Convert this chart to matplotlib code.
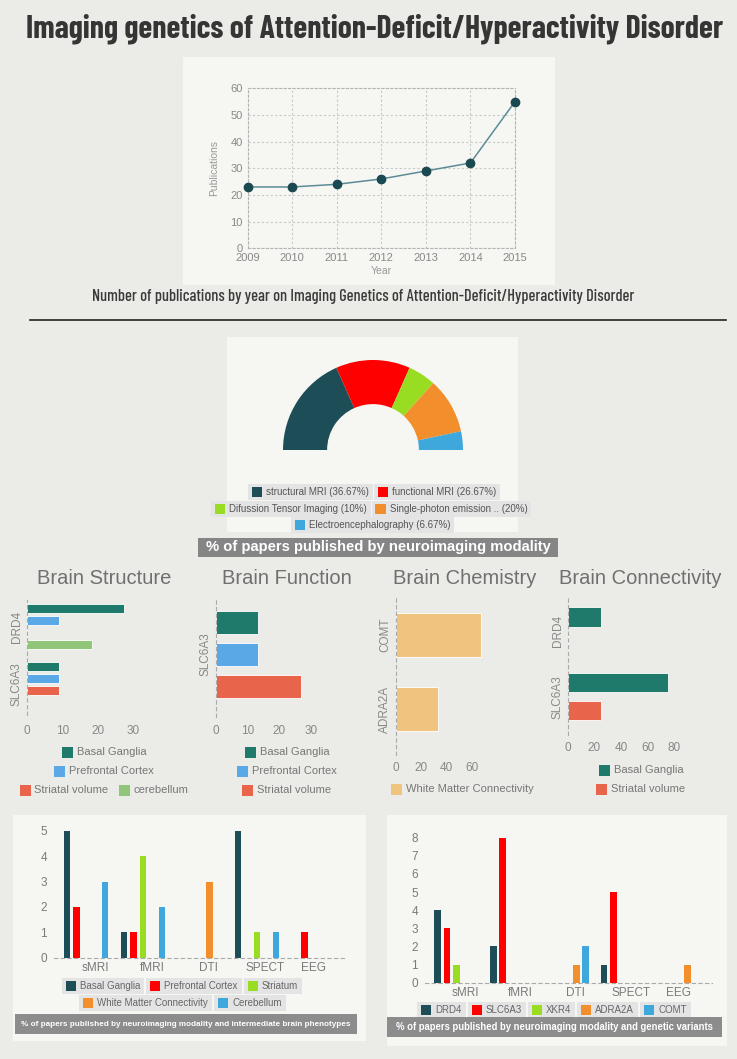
import matplotlib
matplotlib.use('Agg')
import matplotlib.pyplot as plt
from matplotlib.patches import Rectangle

W, H = 737, 1059

# publications per year
years = [2009, 2010, 2011, 2012, 2013, 2014, 2015]
publications = [23, 23, 24, 26, 29, 32, 55]

# neuroimaging modality share (%)
modalities = ['structural MRI', 'functional MRI', 'Difussion Tensor Imaging',
              'Single-photon emission ..', 'Electroencephalography']
modality_pct = [36.67, 26.67, 10, 20, 6.67]

# brain structure
struct_genes = ['DRD4', 'SLC6A3']
struct_series = ['Basal Ganglia', 'Prefrontal Cortex', 'Striatal volume', 'cerebellum']
struct_values = [[27.27, 9.09], [9.09, 9.09], [0, 9.09], [18.18, 0]]

# brain function
func_genes = ['SLC6A3']
func_series = ['Basal Ganglia', 'Prefrontal Cortex', 'Striatal volume']
func_values = [[13.33], [13.33], [26.67]]

# brain chemistry
chem_genes = ['COMT', 'ADRA2A']
chem_series = ['White Matter Connectivity']
chem_values = [[66.67, 33.33]]

# brain connectivity
conn_genes = ['DRD4', 'SLC6A3']
conn_series = ['Basal Ganglia', 'Striatal volume']
conn_values = [[25, 75], [0, 25]]

# modality x phenotype / modality x gene
modal_short = ['sMRI', 'fMRI', 'DTI', 'SPECT', 'EEG']
pheno_series = ['Basal Ganglia', 'Prefrontal Cortex', 'Striatum',
                'White Matter Connectivity', 'Cerebellum']
pheno_values = [[5, 1, 0, 5, 0], [2, 1, 0, 0, 1], [0, 4, 0, 1, 0],
                [0, 0, 3, 0, 0], [3, 2, 0, 1, 0]]
gene_series = ['DRD4', 'SLC6A3', 'XKR4', 'ADRA2A', 'COMT']
gene_values = [[4, 2, 0, 1, 0], [3, 8, 0, 5, 0], [1, 0, 0, 0, 0],
               [0, 0, 1, 0, 1], [0, 0, 2, 0, 0]]

five_colors = ['#1d4e57', '#ff0000', '#99dd22', '#f28f2c', '#3ea8dc']
small_colors = {'Basal Ganglia': '#1f7a6c', 'Prefrontal Cortex': '#5aa9e6',
                'Striatal volume': '#e8644b', 'cerebellum': '#8fc679',
                'White Matter Connectivity': '#f0c47e'}

FONT = ['Liberation Sans', 'DejaVu Sans']
COND = ['Barlow Condensed', 'Oswald', 'DejaVu Sans']
plt.rcParams['font.family'] = FONT

fig = plt.figure(figsize=(W / 100, H / 100), dpi=100, facecolor='#ebebe7')
renderer = fig.canvas.get_renderer()


def box(x0, y0, x1, y1):
    return [x0 / W, 1 - y1 / H, (x1 - x0) / W, (y1 - y0) / H]


def frect(x0, y0, x1, y1, color, z=-1):
    fig.patches.append(Rectangle((x0 / W, 1 - y1 / H), (x1 - x0) / W, (y1 - y0) / H,
                                 transform=fig.transFigure, facecolor=color,
                                 edgecolor='none', zorder=z))


def ftext(x, y, s, **kw):
    return fig.text(x / W, 1 - y / H, s, **kw)


def fit_text(cx, cy, s, width, **kw):
    t = ftext(cx, cy, s, ha='center', va='center', fontsize=10, **kw)
    bb = t.get_window_extent(renderer)
    t.set_fontsize(10 * width / bb.width)
    return t


def legend_row(labels, colors, cx, cy, size=8, sw=11, gap=4, sep=10,
               tcolor='#777777', boxed=False):
    widths = []
    for lab in labels:
        t = ftext(0, 0, lab, fontsize=size)
        widths.append(t.get_window_extent(renderer).width)
        t.remove()
    items = [sw + gap + w for w in widths]
    x = cx - (sum(items) + sep * (len(items) - 1)) / 2
    for lab, col, iw in zip(labels, colors, items):
        if boxed:
            frect(x - 4, cy - sw / 2 - 3, x + iw + 4, cy + sw / 2 + 3, '#e4e4e4')
        frect(x, cy - sw / 2, x + sw, cy + sw / 2, col, z=1)
        ftext(x + sw + gap, cy, lab, ha='left', va='center', fontsize=size, color=tcolor)
        x += iw + sep


# panels
frect(183, 57, 555, 285, '#f6f6f3')
frect(227, 337, 518, 532, '#f6f6f3')
frect(13, 815, 366, 1041, '#f6f6f3')
frect(387, 815, 727, 1046, '#f6f6f3')

# title
fit_text(375, 29, 'Imaging genetics of Attention-Deficit/Hyperactivity Disorder', 692,
         family=COND, weight='bold', color='#353535')

# publications line chart
ax = fig.add_axes(box(247.7, 88.3, 515, 248.3))
ax.set_facecolor('none')
ax.plot(years, publications, color='#5b8c96', lw=1.1, marker='o', ms=6,
        mfc='#1b4951', mec='#1b4951', clip_on=False, zorder=3)
ax.set_xlim(2009, 2015)
ax.set_ylim(0, 60)
ax.set_xticks(years)
ax.set_yticks(range(0, 61, 10))
ax.grid(True, ls=(0, (2, 2)), color='#c8c8c8', lw=0.8)
for s in ax.spines.values():
    s.set_linestyle((0, (2, 2)))
    s.set_color('#b5b5b5')
    s.set_linewidth(0.8)
ax.tick_params(length=0, labelsize=8, labelcolor='#888888', pad=3.5)
ax.set_xlabel('Year', fontsize=7.5, color='#999999', labelpad=2)
ax.set_ylabel('Publications', fontsize=7.5, color='#999999', labelpad=8)

fit_text(363.5, 296, 'Number of publications by year on Imaging Genetics of '
         'Attention-Deficit/Hyperactivity Disorder', 541, family=COND,
         weight='medium', color='#3a3a3a')
fig.add_artist(plt.Line2D([30 / W, 726 / W], [1 - 320 / H] * 2, color='#222222',
                          lw=1.2, transform=fig.transFigure))

# donut
ax = fig.add_axes(box(283, 360, 463, 540))
vals = modality_pct + [sum(modality_pct)]
wedges, _ = ax.pie(vals, colors=five_colors + ['none'], startangle=180,
                   counterclock=False, radius=1,
                   wedgeprops=dict(width=0.49, edgecolor='none'))
wedges[-1].set_visible(False)
ax.set_xlim(-1, 1)
ax.set_ylim(-1, 1)

labs = ['%s (%g%%)' % (m, v) for m, v in zip(modalities, modality_pct)]
legend_row(labs[0:2], five_colors[0:2], 374, 492, size=7, sw=10, sep=9,
           tcolor='#555555', boxed=True)
legend_row(labs[2:4], five_colors[2:4], 371, 509, size=7, sw=10, sep=9,
           tcolor='#555555', boxed=True)
legend_row(labs[4:], five_colors[4:], 372.5, 525, size=7, sw=10, sep=9,
           tcolor='#555555', boxed=True)
frect(198, 538, 558, 557, '#858585')
fit_text(378, 547.5, '% of papers published by neuroimaging modality', 345,
         weight='bold', color='white')


# four small bar charts
def hbar(rect, genes, series, values, step, height, ylim, xlim, xticks, tick_pad):
    ax = fig.add_axes(box(*rect))
    ax.set_facecolor('none')
    n = len(series)
    for j, name in enumerate(series):
        pos = [i + (j - (n - 1) / 2) * step for i in range(len(genes))]
        ax.barh(pos, values[j], height=height, color=small_colors[name],
                edgecolor='white', lw=0.6)
    ax.set_ylim(*ylim)
    ax.set_xlim(*xlim)
    ax.set_xticks(xticks)
    ax.set_yticks(range(len(genes)))
    ax.set_yticklabels(genes, rotation=90, va='center')
    for k in ['top', 'right', 'bottom']:
        ax.spines[k].set_visible(False)
    ax.spines['left'].set_linestyle((0, (3, 3)))
    ax.spines['left'].set_color('#aaaaaa')
    ax.tick_params(length=0, labelsize=8.5, labelcolor='#888888')
    ax.tick_params(axis='x', pad=tick_pad)
    ax.tick_params(axis='y', pad=3)
    return ax


hbar((27, 600, 147.7, 715), struct_genes, struct_series, struct_values,
     0.21, 0.16, (1.54, -0.47), (0, 34), [0, 10, 20, 30], 7)
hbar((216, 598, 323.8, 717), func_genes, func_series, func_values,
     0.269, 0.19, (0.525, -0.475), (0, 34), [0, 10, 20, 30], 6)
hbar((395.5, 597, 485, 755), chem_genes, chem_series, chem_values,
     0.0, 0.595, (1.62, -0.514), (0, 70), [0, 20, 40, 60], 5)
hbar((567.7, 597, 687.7, 735), conn_genes, conn_series, conn_values,
     0.426, 0.29, (1.583, -0.517), (0, 90), [0, 20, 40, 60, 80], 5)

for cx, s in [(104, 'Brain Structure'), (287, 'Brain Function'),
              (464.5, 'Brain Chemistry'), (640, 'Brain Connectivity')]:
    ftext(cx, 579, s, ha='center', va='center', fontsize=14.5, color='#707070')

legend_row(struct_series[:1], [small_colors['Basal Ganglia']], 104, 752)
legend_row(struct_series[1:2], [small_colors['Prefrontal Cortex']], 104, 771)
legend_row(struct_series[2:], [small_colors[s] for s in struct_series[2:]], 104, 790)
for k, s in enumerate(func_series):
    legend_row([s], [small_colors[s]], 287, 752 + 19 * k)
legend_row(chem_series, [small_colors[chem_series[0]]], 462, 789)
for k, s in enumerate(conn_series):
    legend_row([s], [small_colors[s]], 641, 770 + 19 * k)


# grouped column charts
def vbar(rect, series, values, ylim, xlim):
    ax = fig.add_axes(box(*rect))
    ax.set_facecolor('none')
    n = len(series)
    step = 0.167
    for j, name in enumerate(series):
        pos = [i + (j - (n - 1) / 2) * step for i in range(len(modal_short))]
        ax.bar(pos, values[j], width=0.118, color=five_colors[j])
    ax.set_ylim(*ylim)
    ax.set_xlim(*xlim)
    ax.set_yticks(range(ylim[0], ylim[1] + 1))
    shift = [0.16, 0.16, 0.15, 0.15, 0.0]
    ax.set_xticks([i + s for i, s in enumerate(shift)])
    ax.set_xticklabels(modal_short)
    for k in ['top', 'right', 'left']:
        ax.spines[k].set_visible(False)
    ax.spines['bottom'].set_linestyle((0, (3, 3)))
    ax.spines['bottom'].set_color('#aaaaaa')
    ax.tick_params(length=0, labelsize=8.5, labelcolor='#7a7a7a')
    ax.tick_params(axis='y', pad=5)
    ax.tick_params(axis='x', pad=3)
    return ax


vbar((54, 830.7, 347, 957.7), pheno_series, pheno_values, (0, 5), (-0.56, 4.58))
vbar((425, 837.7, 712, 982.7), gene_series, gene_values, (0, 8), (-0.564, 4.61))

legend_row(pheno_series[:3], five_colors[:3], 182, 986, size=7, sw=10, gap=4,
           sep=10, tcolor='#666666', boxed=True)
legend_row(pheno_series[3:], five_colors[3:], 182.5, 1003, size=7, sw=10, gap=4,
           sep=10, tcolor='#666666', boxed=True)
legend_row(gene_series, five_colors, 554, 1010, size=7, sw=10, gap=4,
           sep=10, tcolor='#666666', boxed=True)

frect(15, 1014, 357, 1034, '#8c8c8c')
fit_text(186, 1024, '% of papers published by neuroimaging modality and intermediate '
         'brain phenotypes', 327, weight='bold', color='white')
frect(387, 1017, 722, 1037, '#8c8c8c')
fit_text(554, 1027, '% of papers published by neuroimaging modality and genetic variants',
         318, weight='bold', color='white')

fig.savefig('out.png', dpi=100, facecolor=fig.get_facecolor())
